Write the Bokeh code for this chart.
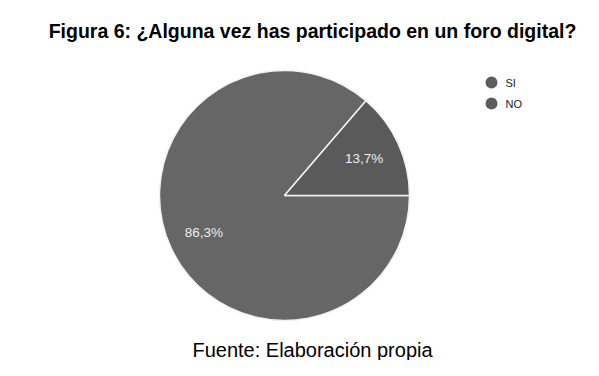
import math
from bokeh.plotting import figure
from bokeh.models import ColumnDataSource
from bokeh.core.properties import value
from bokeh.embed import file_html
from bokeh.resources import INLINE

# ---- data ----
categories = ["SI", "NO"]
percentages = [86.3, 13.7]
pct_labels = ["86,3%", "13,7%"]
title_text = "Figura 6: ¿Alguna vez has participado en un foro digital?"
footer_text = "Fuente: Elaboración propia"

# ---- style / layout ----
W, H = 583, 360
slice_colors = ["#666666", "#5a5a5a"]
cx, cy, R = 284, 165, 125

# angles: NO starts at 0 going anticlockwise, SI takes the rest
no_frac = percentages[1] / 100.0
starts = [no_frac * 2 * math.pi, 0.0]
ends = [2 * math.pi, no_frac * 2 * math.pi]

p = figure(width=W, height=H, x_range=(0, W), y_range=(0, H),
           output_backend="svg", toolbar_location=None, min_border=0)
p.axis.visible = False
p.grid.visible = False
p.outline_line_color = None
p.background_fill_color = "white"

src = ColumnDataSource(dict(x=[cx, cx], y=[cy, cy], start=starts, end=ends,
                            color=slice_colors, cat=categories))
p.wedge(x="x", y="y", radius=R, start_angle="start", end_angle="end",
        direction="anticlock", fill_color="color", line_color="#f2f2f2",
        line_width=1.5, source=src)

# percentage labels at each slice's mid-angle
label_rad = [0.71, 0.70]
mids = [(s + e) / 2 for s, e in zip(starts, ends)]
lx = [cx + R * label_rad[i] * math.cos(mids[i]) for i in range(2)]
ly = [cy + R * label_rad[i] * math.sin(mids[i]) for i in range(2)]
p.text(x=lx, y=ly, text=pct_labels, text_font=value("Liberation Sans"),
       text_font_size="13.5px", text_color="#eeeeee", text_align="center",
       text_baseline="middle")

# legend
leg_x = 491
leg_y = [278, 257]
p.scatter(x=[leg_x] * 2, y=leg_y, size=12, marker="circle",
          fill_color="#5c5c5c", line_color=None)
p.text(x=[leg_x + 14] * 2, y=leg_y, text=categories,
       text_font=value("Liberation Sans"), text_font_size="11px",
       text_color="#222222", text_baseline="middle")

# title and footer
p.text(x=[312], y=[330], text=[title_text], text_font=value("Liberation Sans"),
       text_font_size="19.5px", text_font_style="bold", text_color="#000000",
       text_align="center", text_baseline="middle")
p.text(x=[312], y=[11], text=[footer_text], text_font=value("Liberation Sans"),
       text_font_size="20px", text_color="#000000",
       text_align="center", text_baseline="middle")

open("out.html", "w").write(file_html(p, INLINE))
